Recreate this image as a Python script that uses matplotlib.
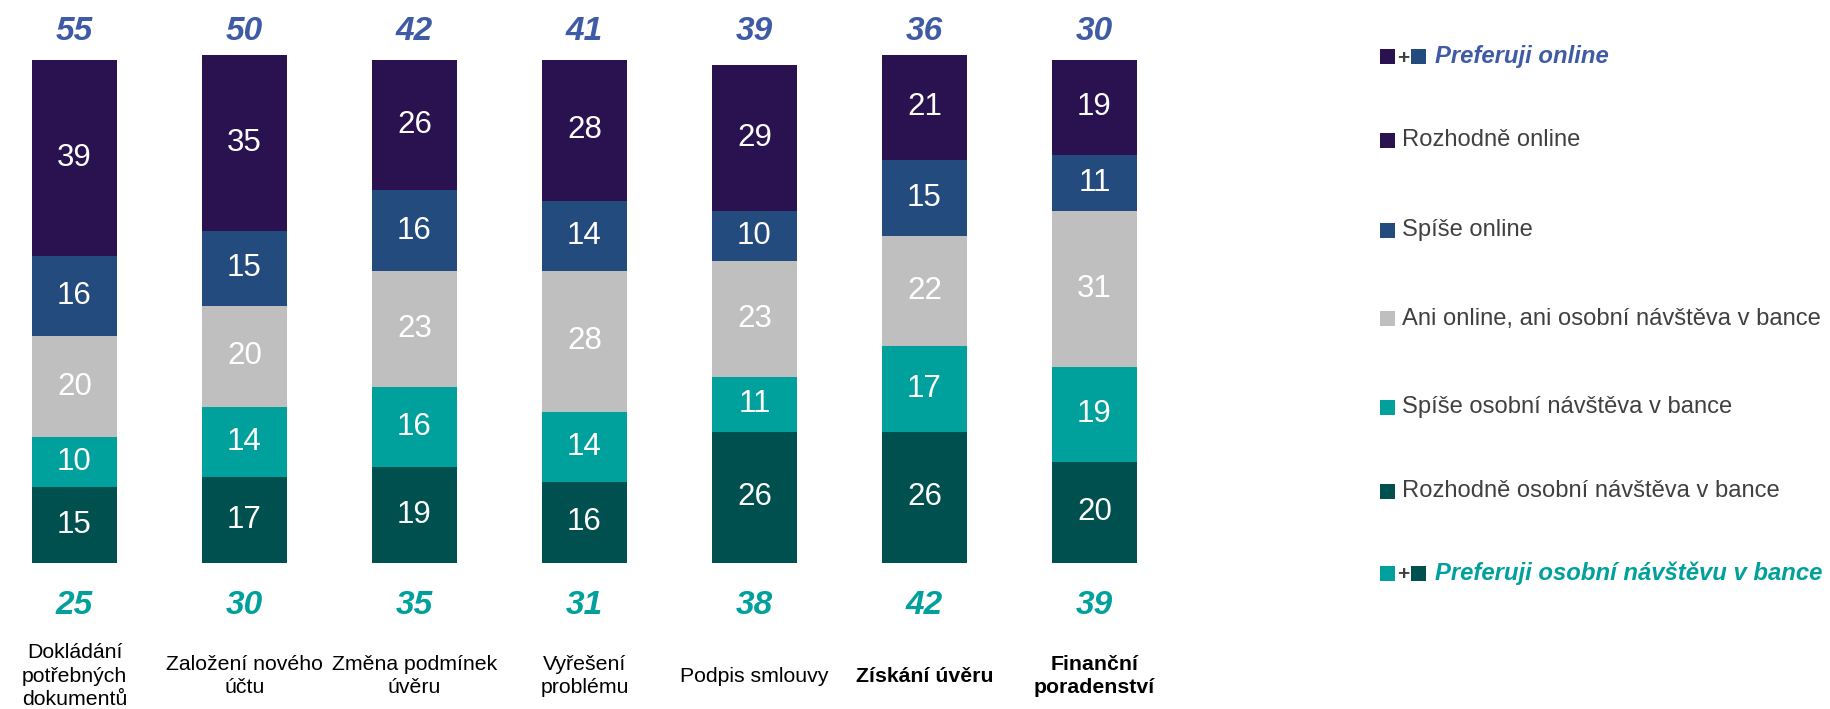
import matplotlib
matplotlib.use("Agg")
import matplotlib.pyplot as plt
from matplotlib.patches import Rectangle
import numpy as np

plt.rcParams['font.family'] = ['Liberation Sans', 'DejaVu Sans']

categories = ["Dokládání\npotřebných\ndokumentů", "Založení nového\núčtu", "Změna podmínek\núvěru",
              "Vyřešení\nproblému", "Podpis smlouvy", "Získání úvěru", "Finanční\nporadenství"]
bold_cats = [False, False, False, False, False, True, True]

rozhodne_osobni = [15, 17, 19, 16, 26, 26, 20]
spise_osobni = [10, 14, 16, 14, 11, 17, 19]
ani = [20, 20, 23, 28, 23, 22, 31]
spise_online = [16, 15, 16, 14, 10, 15, 11]
rozhodne_online = [39, 35, 26, 28, 29, 21, 19]

pref_online = [55, 50, 42, 41, 39, 36, 30]
pref_osobni = [25, 30, 35, 31, 38, 42, 39]

series_names = ["Rozhodně online", "Spíše online", "Ani online, ani osobní návštěva v bance",
                "Spíše osobní návštěva v bance", "Rozhodně osobní návštěva v bance"]

C_PURPLE = "#2A1150"
C_BLUE = "#244B7E"
C_GRAY = "#BFBFBF"
C_TEAL = "#00A09C"
C_DTEAL = "#00504F"
C_TOPLBL = "#3F5BA5"

W, H = 1831, 709
fig = plt.figure(figsize=(W / 100, H / 100), dpi=100)

# axes geometry (pixels)
ax_left = 0
ax_width = 1190
ax_bottom = 146.3
ax_height = H - ax_bottom
px_per_unit = 5.03
ax = fig.add_axes([ax_left / W, ax_bottom / H, ax_width / W, ax_height / H])
x0 = -74.5 / 170
ax.set_xlim(x0, x0 + ax_width / 170)
ax.set_ylim(0, ax_height / px_per_unit)
ax.axis('off')

x = np.arange(len(categories))
stack = [(rozhodne_osobni, C_DTEAL), (spise_osobni, C_TEAL), (ani, C_GRAY),
         (spise_online, C_BLUE), (rozhodne_online, C_PURPLE)]
bottom = np.zeros(len(categories))
for vals, col in stack:
    vals = np.array(vals, dtype=float)
    ax.bar(x, vals, bottom=bottom, width=0.5, color=col, edgecolor='none')
    for xi, b, v in zip(x, bottom, vals):
        ax.text(xi, b + v / 2, f"{int(v)}", ha='center', va='center', color='white',
                fontsize=22.5)
    bottom += vals

def py(pix_from_top):
    return ((H - pix_from_top) - ax_bottom) / px_per_unit

for xi, v in zip(x, pref_online):
    ax.text(xi, py(31), f"{v}", ha='center', va='center', color=C_TOPLBL,
            fontsize=24, fontweight='bold', fontstyle='italic', clip_on=False)
for xi, v in zip(x, pref_osobni):
    ax.text(xi, py(605), f"{v}", ha='center', va='center', color=C_TEAL,
            fontsize=24, fontweight='bold', fontstyle='italic', clip_on=False)
for xi, c, b in zip(x, categories, bold_cats):
    ax.text(xi, py(676), c, ha='center', va='center', color='black',
            fontsize=15.3, fontweight='bold' if b else 'normal', linespacing=1.3,
            clip_on=False)

# legend
def fx(px):
    return px / W

def fy(py_top):
    return (H - py_top) / H

sq = 15
def square(xl, yc, col):
    fig.add_artist(Rectangle((fx(xl), fy(yc + sq / 2)), sq / W, sq / H,
                             transform=fig.transFigure, color=col, lw=0))

legend_rows_y = [56, 140, 230, 319, 407, 491, 573]
text_x = 1402
# combined row: online
square(1380, legend_rows_y[0], C_PURPLE)
fig.text(fx(1403), fy(legend_rows_y[0] + 2), "+", ha='center', va='center',
         fontsize=15, fontweight='bold', color='#404040')
square(1411, legend_rows_y[0], C_BLUE)
fig.text(fx(1435), fy(legend_rows_y[0]), "Preferuji online", ha='left', va='center',
         fontsize=17.2, fontweight='bold', fontstyle='italic', color=C_TOPLBL)

cols = [C_PURPLE, C_BLUE, C_GRAY, C_TEAL, C_DTEAL]
for yc, name, col in zip(legend_rows_y[1:6], series_names, cols):
    square(1380, yc, col)
    fig.text(fx(text_x), fy(yc), name, ha='left', va='center', fontsize=17.1,
             color='#404040')

square(1380, legend_rows_y[6], C_TEAL)
fig.text(fx(1403), fy(legend_rows_y[6] + 2), "+", ha='center', va='center',
         fontsize=15, fontweight='bold', color='#404040')
square(1411, legend_rows_y[6], C_DTEAL)
fig.text(fx(1435), fy(legend_rows_y[6]), "Preferuji osobní návštěvu v bance", ha='left',
         va='center', fontsize=17.2, fontweight='bold', fontstyle='italic', color=C_TEAL)

fig.savefig("out.png", dpi=100)
